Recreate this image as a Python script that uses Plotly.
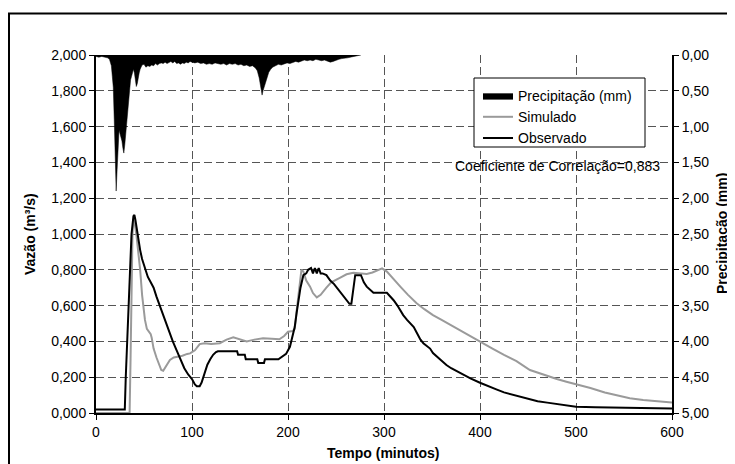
import plotly.graph_objects as go

# ---- data ----
obs_t = [0, 10, 20, 29, 30, 31, 34, 37, 39, 40, 41, 43, 46, 48, 51, 54, 57, 60, 63, 67, 70, 74, 77, 80,
         84, 88, 92, 96, 100, 103, 105, 108, 110, 113, 116, 119, 122, 125, 127, 147, 148, 155, 156, 168,
         169, 175, 176, 190, 194, 198, 202, 205, 207, 209, 211, 213, 216, 219, 221, 224, 226, 228, 230,
         232, 234, 236, 240, 244, 248, 251, 255, 258, 261, 264, 266, 268, 270, 276, 279, 282, 285, 289,
         303, 307, 310, 314, 317, 320, 324, 327, 331, 334, 338, 341, 345, 348, 351, 355, 360, 365, 370,
         375, 383, 390, 400, 408, 417, 425, 435, 444, 452, 460, 470, 480, 487, 500, 520, 540, 556, 580, 600]
obs_q = [0.02, 0.02, 0.02, 0.02, 0.02, 0.20, 0.60, 1.00, 1.10, 1.106, 1.08, 1.00, 0.91, 0.86, 0.81, 0.76,
         0.73, 0.70, 0.65, 0.59, 0.55, 0.49, 0.445, 0.40, 0.35, 0.295, 0.25, 0.215, 0.19, 0.16, 0.15, 0.15,
         0.17, 0.22, 0.27, 0.30, 0.325, 0.34, 0.345, 0.345, 0.325, 0.325, 0.30, 0.30, 0.28, 0.28, 0.30,
         0.30, 0.315, 0.33, 0.37, 0.43, 0.48, 0.56, 0.63, 0.70, 0.77, 0.78, 0.80, 0.81, 0.78, 0.81, 0.78,
         0.81, 0.78, 0.78, 0.77, 0.74, 0.72, 0.70, 0.67, 0.65, 0.63, 0.61, 0.61, 0.70, 0.77, 0.77, 0.73,
         0.706, 0.69, 0.672, 0.672, 0.65, 0.63, 0.60, 0.57, 0.547, 0.52, 0.50, 0.48, 0.45, 0.41, 0.39,
         0.37, 0.36, 0.335, 0.315, 0.29, 0.268, 0.25, 0.235, 0.212, 0.193, 0.169, 0.15, 0.132, 0.115,
         0.10, 0.087, 0.076, 0.066, 0.058, 0.05, 0.045, 0.035, 0.032, 0.03, 0.028, 0.026, 0.025]

sim_t = [0, 35, 36, 37, 38, 39, 40, 42, 44, 46, 48, 49.5, 51, 53, 55, 57, 58, 60, 63, 66, 68, 70, 73, 77,
         81, 86, 90, 95, 98, 103, 108, 113, 120, 129, 136, 143, 150, 157, 165, 174, 183, 191, 196, 200,
         205, 207, 209, 211, 213, 214, 216, 219, 223, 226, 230, 234, 240, 245, 254, 261, 268, 275, 282,
         288, 294, 298, 303, 310, 317, 325, 334, 342, 351, 360, 369, 380, 390, 400, 413, 425, 438, 452,
         465, 480, 490, 500, 515, 530, 545, 556, 570, 585, 600]
sim_q = [0.0, 0.0, 0.30, 0.70, 1.00, 1.08, 1.07, 1.00, 0.90, 0.80, 0.66, 0.59, 0.52, 0.47, 0.455, 0.44,
         0.42, 0.36, 0.31, 0.26, 0.24, 0.236, 0.26, 0.296, 0.31, 0.315, 0.32, 0.33, 0.333, 0.35, 0.385,
         0.39, 0.385, 0.39, 0.41, 0.423, 0.41, 0.40, 0.41, 0.417, 0.415, 0.412, 0.43, 0.454, 0.458, 0.47,
         0.57, 0.67, 0.77, 0.80, 0.79, 0.74, 0.706, 0.67, 0.646, 0.66, 0.70, 0.73, 0.755, 0.775, 0.784,
         0.78, 0.777, 0.785, 0.80, 0.808, 0.79, 0.745, 0.706, 0.66, 0.613, 0.58, 0.547, 0.52, 0.492, 0.46,
         0.43, 0.398, 0.36, 0.325, 0.29, 0.24, 0.215, 0.19, 0.175, 0.162, 0.14, 0.115, 0.095, 0.082,
         0.072, 0.064, 0.058]

prec_t = [0, 3, 6, 9, 12, 14, 16, 17, 18, 19, 20, 21, 22, 23, 24, 25, 26, 27, 28, 29, 30, 31, 32, 33,
          34, 35, 36, 37, 38, 39, 40, 41, 42, 43, 44, 45, 46, 47, 48, 50, 52, 54, 56, 58, 60, 62, 64, 66,
          68, 70, 72, 74, 76, 78, 80, 82, 84, 86, 88, 90, 92, 94, 96, 98, 100, 103, 106, 109, 112, 115,
          118, 121, 124, 127, 130, 133, 136, 139, 142, 145, 148, 151, 154, 157, 160, 163, 166, 168, 170,
          172, 173, 174, 176, 178, 180, 182, 184, 187, 190, 193, 196, 199, 202, 205, 208, 211, 214, 217,
          220, 223, 226, 229, 232, 235, 238, 241, 244, 247, 250, 253, 256, 259, 262, 265, 268, 271, 274, 276]
prec_mm = [0.02, 0.03, 0.02, 0.03, 0.04, 0.06, 0.15, 0.30, 0.45, 0.90, 1.35, 1.90, 1.60, 1.20, 1.05,
           1.10, 1.14, 1.20, 1.30, 1.37, 1.25, 1.10, 1.00, 0.80, 0.60, 0.44, 0.35, 0.30, 0.22, 0.20,
           0.25, 0.33, 0.44, 0.40, 0.30, 0.25, 0.20, 0.16, 0.14, 0.13, 0.17, 0.15, 0.16, 0.14, 0.15,
           0.12, 0.14, 0.12, 0.11, 0.12, 0.10, 0.12, 0.11, 0.09, 0.11, 0.09, 0.12, 0.11, 0.13, 0.11,
           0.12, 0.10, 0.11, 0.09, 0.10, 0.11, 0.10, 0.12, 0.11, 0.13, 0.12, 0.13, 0.11, 0.12, 0.13,
           0.12, 0.14, 0.12, 0.13, 0.12, 0.14, 0.13, 0.15, 0.14, 0.16, 0.15, 0.18, 0.22, 0.32, 0.48,
           0.56, 0.50, 0.40, 0.30, 0.24, 0.20, 0.17, 0.15, 0.13, 0.14, 0.12, 0.11, 0.12, 0.10, 0.09,
           0.10, 0.08, 0.07, 0.08, 0.07, 0.08, 0.06, 0.07, 0.08, 0.07, 0.08, 0.10, 0.09, 0.07, 0.06,
           0.05, 0.05, 0.04, 0.03, 0.02, 0.015, 0.01, 0.0]

x_ticks = [0, 100, 200, 300, 400, 500, 600]

FONT = "Liberation Sans, Arial, sans-serif"
GRID = "#555555"
GRID_DASH = "8px,4px"

# page body has an 8px margin, so the figure is sized/placed to land on the reference pixels
W, H = 727, 456
L, T = 88, 47
PW, PH = 576, 358


def px(xp):
    return (xp - 8 - L) / PW


def py(yp):
    return (T + PH - (yp - 8)) / PH


fig = go.Figure()
fig.add_trace(go.Scatter(x=prec_t, y=prec_mm, yaxis="y2", name="Precipitação (mm)",
                         mode="lines", line=dict(color="black", width=0.5),
                         fill="tozeroy", fillcolor="black"))
fig.add_trace(go.Scatter(x=sim_t, y=sim_q, name="Simulado", mode="lines",
                         line=dict(color="#9a9a9a", width=2)))
fig.add_trace(go.Scatter(x=obs_t, y=obs_q, name="Observado", mode="lines",
                         line=dict(color="black", width=2)))

fig.update_layout(
    width=W, height=H,
    margin=dict(l=L, r=W - L - PW, t=T, b=H - T - PH),
    paper_bgcolor="white", plot_bgcolor="white",
    separators=",.",
    font=dict(family=FONT, size=14, color="black"),
    showlegend=True,
    legend=dict(x=px(478), y=py(80), xanchor="left", yanchor="top",
                bgcolor="rgba(0,0,0,0)", borderwidth=0,
                font=dict(size=14), itemwidth=30, tracegroupgap=0),
    xaxis=dict(range=[0, 600], tickvals=x_ticks, showgrid=True, gridcolor=GRID,
               griddash=GRID_DASH, gridwidth=1, zeroline=False, showline=True,
               linecolor="black", linewidth=2, ticks="outside", ticklen=5,
               tickcolor="black", tickfont=dict(size=14)),
    yaxis=dict(range=[0, 2], dtick=0.2, tickformat=".3f", showgrid=True,
               gridcolor=GRID, griddash=GRID_DASH, gridwidth=1, zeroline=False,
               showline=True, linecolor="black", linewidth=2, ticks="outside",
               ticklen=5, tickcolor="black", tickfont=dict(size=14)),
    yaxis2=dict(range=[5, 0], dtick=0.5, tickformat=".2f", overlaying="y",
                side="right", showgrid=False, zeroline=False, showline=True,
                linecolor="black", linewidth=2, ticks="outside", ticklen=5,
                tickcolor="black", tickfont=dict(size=14)),
    annotations=[
        dict(text="<b>Tempo (minutos)</b>", xref="paper", yref="paper",
             x=px(383), y=py(453), showarrow=False, xanchor="center", yanchor="middle",
             font=dict(size=14)),
        dict(text="<b>Vazão (m³/s)</b>", xref="paper", yref="paper",
             x=px(30), y=0.5, showarrow=False, textangle=-90,
             xanchor="center", yanchor="middle", font=dict(size=14)),
        dict(text="<b>Precipitação (mm)</b>", xref="paper", yref="paper",
             x=px(722), y=0.5, showarrow=False, textangle=-90,
             xanchor="center", yanchor="middle", font=dict(size=14)),
        dict(text="Coeficiente de Correlação=0,883", xref="paper", yref="paper",
             x=px(662), y=py(166), showarrow=False, xanchor="right", yanchor="middle",
             font=dict(size=14)),
    ],
    shapes=[
        dict(type="rect", xref="paper", yref="paper",
             x0=px(9), x1=1.3, y0=-0.4, y1=py(13.5),
             line=dict(color="black", width=2), fillcolor="rgba(0,0,0,0)",
             layer="above"),
        dict(type="rect", xref="paper", yref="paper",
             x0=px(474), x1=px(645), y0=py(147), y1=py(78),
             line=dict(color="black", width=1), fillcolor="white",
             layer="above"),
    ],
)

fig.write_html("out.html")
